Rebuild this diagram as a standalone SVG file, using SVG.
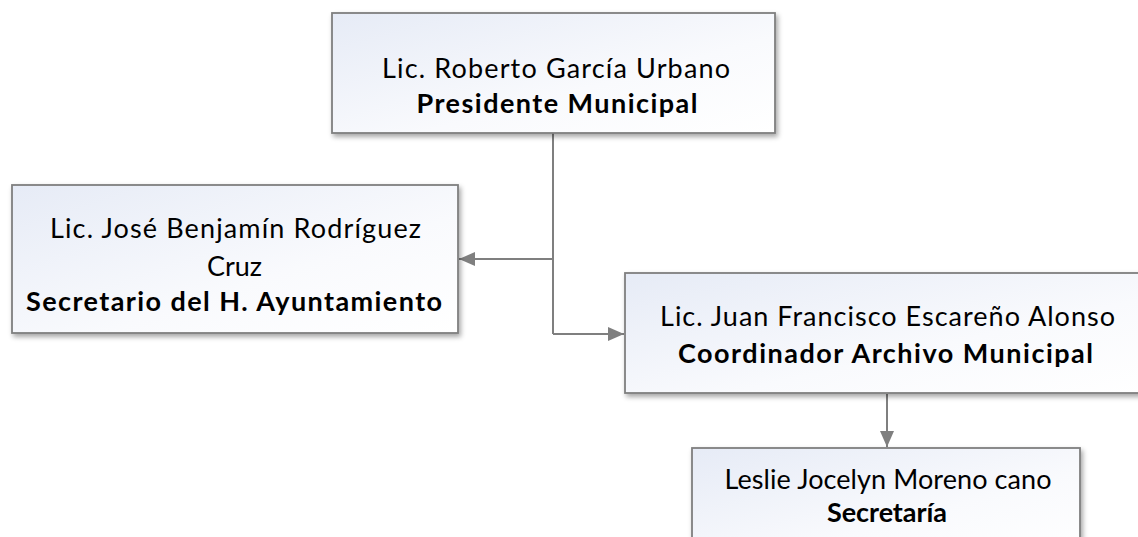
<svg xmlns="http://www.w3.org/2000/svg" width="1138" height="537" viewBox="0 0 1138 537">
<style>
.box{stroke:#7f7f7f;stroke-width:1.8;filter:url(#sh)}
.t{font-family:Lato,"Liberation Sans",sans-serif;font-size:27px;fill:#000;text-anchor:middle}
.b{font-weight:bold}
.c{fill:none;stroke:#7f7f7f;stroke-width:2}
</style>
<defs>
<linearGradient id="g" x1="0" y1="0" x2="1" y2="1">
<stop offset="0" stop-color="#e6ebf6"/>
<stop offset="0.6" stop-color="#f9fafd"/>
<stop offset="1" stop-color="#ffffff"/>
</linearGradient>
<filter id="sh" x="-10%" y="-10%" width="120%" height="130%">
<feDropShadow dx="2" dy="3" stdDeviation="2.5" flood-color="#000" flood-opacity="0.35"/>
</filter>
<marker id="ah" markerUnits="userSpaceOnUse" markerWidth="17" markerHeight="15" refX="16" refY="7" orient="auto">
<path d="M0,0 L16,7 L0,14 z" fill="#7f7f7f"/>
</marker>
</defs>
<rect width="1138" height="537" fill="#fff"/>
<g id="connectors">
<path class="c" d="M553,133 V334"/>
<path class="c" d="M553,259 H459" marker-end="url(#ah)"/>
<path class="c" d="M553,334 H624" marker-end="url(#ah)"/>
<path class="c" d="M887,394 V447" marker-end="url(#ah)"/>
</g>
<g id="presidente">
<rect class="box" x="332" y="13" width="443" height="120" fill="url(#g)"/>
<text class="t" x="556" y="78" textLength="348">Lic. Roberto García Urbano</text>
<text class="t b" x="557" y="113" textLength="281">Presidente Municipal</text>
</g>
<g id="secretario">
<rect class="box" x="12" y="185" width="446" height="148" fill="url(#g)"/>
<text class="t" x="235.5" y="238" textLength="371">Lic. José Benjamín Rodríguez</text>
<text class="t" x="234.5" y="276" textLength="55">Cruz</text>
<text class="t b" x="234" y="311" textLength="416">Secretario del H. Ayuntamiento</text>
</g>
<g id="coordinador">
<rect class="box" x="625" y="273" width="525" height="120" fill="url(#g)"/>
<text class="t" x="887.5" y="326" textLength="455">Lic. Juan Francisco Escareño Alonso</text>
<text class="t b" x="885.5" y="363" textLength="415">Coordinador Archivo Municipal</text>
</g>
<g id="secretaria">
<rect class="box" x="692" y="448" width="388" height="110" fill="url(#g)"/>
<text class="t" x="888" y="489" textLength="327">Leslie Jocelyn Moreno cano</text>
<text class="t b" x="887" y="522" textLength="120">Secretaría</text>
</g>
</svg>
